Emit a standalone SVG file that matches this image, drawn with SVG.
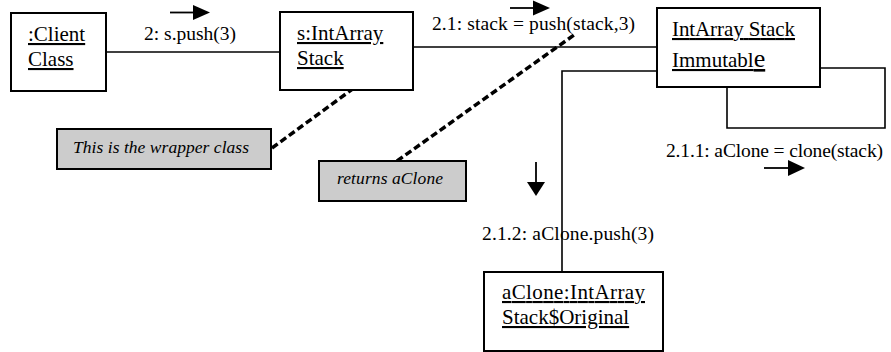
<svg xmlns="http://www.w3.org/2000/svg" width="891" height="352" viewBox="0 0 891 352">
<defs>
<style>
.box{fill:#fff;stroke:#000;stroke-width:2}
.note{fill:#cccccc;stroke:#000;stroke-width:2}
.t{font-size:21px;text-decoration:underline}
.m{font-size:19.5px}
.n{font-size:17.5px;font-style:italic}
.c{fill:none;stroke:#000;stroke-width:1.6}
.d{fill:none;stroke:#000;stroke-width:3.5;stroke-dasharray:7 3.5}
.a{stroke:#000;stroke-width:1.8}
</style>
</defs>
<rect width="891" height="352" fill="#fff"/>
<g id="connectors">
<line class="c" x1="106" y1="52" x2="280" y2="52"/>
<line class="c" x1="413" y1="47" x2="657" y2="47"/>
<polyline class="c" points="562,272 562,71 657,71"/>
<polyline class="c" points="820,68 885,68 885,128 727,128 727,87"/>
<line class="d" x1="272" y1="148" x2="354" y2="88"/>
<line class="d" x1="397" y1="161" x2="574" y2="35"/>
<line class="a" x1="170" y1="12.5" x2="195" y2="12.5"/>
<polygon points="193,5 210,12.5 193,20"/>
<line class="a" x1="510" y1="8" x2="535" y2="8"/>
<polygon points="533,0.5 550,8 533,15.5"/>
<line class="a" x1="764" y1="168" x2="790" y2="168"/>
<polygon points="788,160 805,168 788,176"/>
<line class="a" x1="536" y1="162" x2="536" y2="184"/>
<polygon points="527,182 545,182 536,196"/>
</g>
<g id="labels">
<text class="m" font-family="Liberation Serif" x="144" y="40">2: s.push(3)</text>
<text class="m" font-family="Liberation Serif" x="432" y="30" textLength="203">2.1: stack = push(stack,3)</text>
<text class="m" font-family="Liberation Serif" x="666" y="157" textLength="217">2.1.1: aClone = clone(stack)</text>
<text class="m" font-family="Liberation Serif" x="482" y="240" textLength="172">2.1.2: aClone.push(3)</text>
</g>
<g id="client">
<rect class="box" x="11" y="13" width="95" height="78"/>
<text class="t" font-family="Liberation Serif" x="28" y="41">:Client</text>
<text class="t" font-family="Liberation Serif" x="28" y="66">Class</text>
</g>
<g id="stack">
<rect class="box" x="280" y="12" width="133" height="78"/>
<text class="t" font-family="Liberation Serif" x="297" y="40">s:IntArray</text>
<text class="t" font-family="Liberation Serif" x="297" y="65">Stack</text>
</g>
<g id="immutable">
<rect class="box" x="657" y="8" width="163" height="79"/>
<text class="t" font-family="Liberation Serif" x="672" y="36" textLength="123">IntArray Stack</text>
<text class="t" font-family="Liberation Serif" x="672" y="67">Immutabl<tspan font-size="26">e</tspan></text>
</g>
<g id="aclone">
<rect class="box" x="484" y="272" width="179" height="79"/>
<text class="t" font-family="Liberation Serif" x="502" y="299" textLength="143">aClone:IntArray</text>
<text class="t" font-family="Liberation Serif" x="502" y="324">Stack$Original</text>
</g>
<g id="note-wrapper">
<rect class="note" x="57" y="129" width="214" height="40"/>
<text class="n" font-family="Liberation Serif" x="73" y="153" textLength="176">This is the wrapper class</text>
</g>
<g id="note-returns">
<rect class="note" x="319" y="161" width="147" height="40"/>
<text class="n" font-family="Liberation Serif" x="337" y="184" textLength="106">returns aClone</text>
</g>
</svg>
